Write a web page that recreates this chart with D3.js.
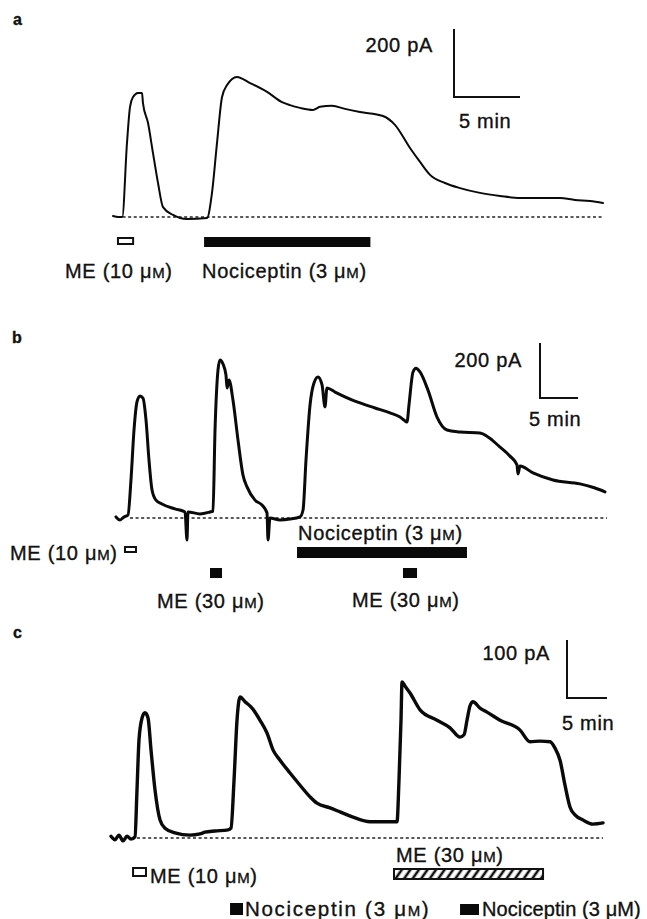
<!DOCTYPE html>
<html><head><meta charset="utf-8">
<script src="https://cdn.jsdelivr.net/npm/d3@7"></script>
<style>
body{margin:0;background:#fff;}
text{font-family:"Liberation Sans",Arial,Helvetica,sans-serif;fill:#111;stroke:#111;stroke-width:0.35px;}
</style></head><body>
<svg id="chart" width="647" height="919"></svg>
<script>
// ---------------- DATA ----------------
const panelNames = ["a", "b", "c"];

// Panel a: membrane current trace (time in min, outward current in pA)
const traceA_min = [0,0.4,0.7,1.06,1.29,1.52,1.89,2.2,2.27,2.65,3.03,3.41,3.79,4.55,5.61,7.12,7.5,7.88,8.26,8.64,9.39,10.38,11.67,12.8,13.41,14.17,15.15,15.68,16.59,17.58,18.71,20.45,21.36,22.5,23.26,24.02,25.15,26.29,27.8,29.32,30.83,32.73,33.86,35.0,36.14,37.12];
const traceA_pA  = [3,0,0,218,324,353,365,365,335,277,188,100,29,6,-6,-3,71,218,353,388,412,394,368,338,329,321,315,324,327,318,309,297,271,203,162,124,100,85,71,62,56,56,56,50,47,41];

// Panel b
const traceB_min = [0,0.53,1.05,1.58,1.97,2.37,2.76,3.16,3.55,3.95,4.34,4.74,5.26,6.05,7.76,9.08,9.34,9.47,11.05,12.37,12.76,13.03,13.42,13.68,14.08,14.47,14.61,14.87,15.39,16.05,16.71,17.24,18.29,19.21,19.87,20.0,20.26,21.58,22.89,24.21,24.61,25.0,25.53,26.05,26.58,27.11,27.5,27.76,28.82,31.71,34.08,36.05,37.37,37.89,38.29,38.55,39.08,39.47,40.0,41.05,42.24,43.55,45.26,47.89,50.53,51.84,52.76,52.89,53.16,54.87,57.5,61.05,63.03,64.34];
const traceB_pA  = [4,-7,4,11,138,320,422,444,436,356,211,102,65,51,33,22,-80,22,15,22,25,320,538,575,560,520,473,502,429,284,156,113,65,47,18,-80,0,-7,-4,4,29,211,411,491,513,484,404,473,458,422,400,382,367,356,349,411,531,545,531,465,367,320,313,309,258,225,193,160,189,164,138,124,109,95];

// Panel c
const traceC_min = [0,0.5,1.0,1.5,2.0,2.5,3.0,3.25,3.5,3.88,4.25,4.63,5.0,5.5,6.13,6.75,8.0,9.88,11.13,11.75,13.0,14.63,15.0,15.38,15.75,16.13,16.75,17.63,18.63,19.5,20.25,21.13,22.38,23.63,24.88,25.75,27.38,28.63,30.25,32.38,34.25,35.75,36.0,36.25,36.38,36.75,37.38,38.63,40.75,42.38,43.63,44.13,44.5,44.88,45.25,46.13,47.0,48.63,51.13,52.38,53.63,54.88,55.5,56.13,56.75,57.38,58.0,59.0,60.25,61.5];
const traceC_pA  = [3,-3,5,-5,3,-2,2,83,169,207,216,207,152,83,31,17,9,5,7,10,12,14,17,100,203,243,235,224,203,181,152,134,112,91,71,60,52,45,36,28,28,28,100,203,269,262,250,221,203,190,174,178,203,228,235,224,217,203,186,166,167,166,155,134,91,53,40,31,24,26];

// Scale bars
const scaleBarPA  = [200, 200, 100];
const scaleBarMin = [5, 5, 5];
const scaleBarPAText  = ["200 pA", "200 pA", "100 pA"];
const scaleBarMinText = ["5 min", "5 min", "5 min"];

// Drug applications (min)
const drugA_name  = ["ME (10 μM)", "Nociceptin (3 μM)"];
const drugA_start = [0.3, 6.9];
const drugA_end   = [1.6, 19.5];

const drugB_name  = ["ME (10 μM)", "ME (30 μM)", "Nociceptin (3 μM)", "ME (30 μM)"];
const drugB_start = [1.05, 12.37, 23.82, 37.76];
const drugB_end   = [2.76, 13.95, 46.18, 39.61];

const drugC_name  = ["ME (10 μM)", "ME (30 μM)", "Nociceptin (3 μM)", "Nociceptin (3 μM)"];
const drugC_start = [2.63, 35.25, 14.88, 43.63];
const drugC_end   = [4.5, 54.13, 16.5, 46.0];

// ---------------- LAYOUT ----------------
const layout = [
  { x0:113, pxMin:13.2, base:217, pxPA:0.34, lw:2.0, dash:[0.3,37.12], letter:[13,25],
    bar:[454,97], paText:[433,52], minText:[459,128],
    drugs:[
      {style:"open",  y:237, h:8,  lx:65,  ly:278, small:true},
      {style:"solid", y:237, h:10, lx:202, ly:278, small:true}
    ]},
  { x0:116, pxMin:7.6, base:518, pxPA:0.275, lw:3.0, dash:[1.84,64.6], letter:[12,343],
    bar:[540,398], paText:[522,367], minText:[529,426],
    drugs:[
      {style:"open",  y:546, h:7,  lx:10,  ly:560, small:true},
      {style:"solid", y:568, h:10, lx:157, ly:608, small:true},
      {style:"solid", y:547, h:11, lx:298, ly:540, small:true},
      {style:"solid", y:568, h:10, lx:352, ly:607, small:true}
    ]},
  { x0:111, pxMin:8, base:838, pxPA:0.58, lw:3.4, dash:[3.25,61.5], letter:[13,638],
    bar:[567,698], paText:[550,660], minText:[562,730],
    drugs:[
      {style:"open",  y:867, h:10, lx:150, ly:883, small:true},
      {style:"hatch", y:868, h:12, lx:396, ly:862, small:true},
      {style:"solid", y:903, h:12, lx:245, ly:916, small:true, fs:20.5, ls:1.7},
      {style:"solid", y:904, h:11, lx:482, ly:916, small:false, fs:20, ls:0.1}
    ]}
];

const traces = [[traceA_min,traceA_pA],[traceB_min,traceB_pA],[traceC_min,traceC_pA]];
const drugs = [[drugA_name,drugA_start,drugA_end],[drugB_name,drugB_start,drugB_end],[drugC_name,drugC_start,drugC_end]];

// ---------------- DRAW ----------------
const svg = d3.select("#chart");
const defs = svg.append("defs");
const pat = defs.append("pattern").attr("id","hatch").attr("patternUnits","userSpaceOnUse")
  .attr("width",7).attr("height",7).attr("patternTransform","rotate(35)");
pat.append("rect").attr("width",7).attr("height",7).attr("fill","#fff");
pat.append("line").attr("x1",2).attr("y1",0).attr("x2",2).attr("y2",7).attr("stroke","#111").attr("stroke-width",2.6);

function label(g, x, y, s, small, anchor, fs, ls) {
  const t = g.append("text").attr("x", x).attr("y", y).attr("text-anchor", anchor || "start")
    .attr("font-size", fs || 20).attr("letter-spacing", ls == null ? 0.7 : ls);
  const i = s.indexOf("μM");
  if (small && i >= 0) {
    t.append("tspan").text(s.slice(0, i + 1));
    t.append("tspan").attr("font-size", 15).text("M");
    t.append("tspan").text(s.slice(i + 2));
  } else t.text(s);
  return t;
}

layout.forEach((L, p) => {
  const g = svg.append("g");
  const x = d3.scaleLinear().domain([0, 1]).range([L.x0, L.x0 + L.pxMin]);
  const y = d3.scaleLinear().domain([0, 1]).range([L.base, L.base - L.pxPA]);

  // panel letter
  g.append("text").attr("x", L.letter[0]).attr("y", L.letter[1]).attr("font-size", 16)
    .attr("font-weight", "bold").text(panelNames[p]);

  // dashed zero-current baseline
  g.append("line").attr("x1", x(L.dash[0])).attr("x2", x(L.dash[1]))
    .attr("y1", y(0)).attr("y2", y(0))
    .attr("stroke", "#222").attr("stroke-width", 1.3).attr("stroke-dasharray", "3,2.6");

  // trace
  const [tm, pa] = traces[p];
  const pts = tm.map((t, i) => [t, pa[i]]);
  g.append("path").datum(pts)
    .attr("d", d3.line().x(d => x(d[0])).y(d => y(d[1])).curve(d3.curveMonotoneX))
    .attr("fill", "none").attr("stroke", "#0a0a0a").attr("stroke-width", L.lw)
    .attr("stroke-linejoin", "round").attr("stroke-linecap", "round");

  // scale bar
  const bx = L.bar[0], by = L.bar[1];
  const vlen = y(0) - y(scaleBarPA[p]);
  const hlen = x(scaleBarMin[p]) - x(0);
  g.append("path").attr("d", `M${bx},${by - vlen}V${by}H${bx + hlen}`)
    .attr("fill", "none").attr("stroke", "#111").attr("stroke-width", 2);
  label(g, L.paText[0], L.paText[1], scaleBarPAText[p], false, "end");
  label(g, L.minText[0], L.minText[1], scaleBarMinText[p], false, "start");

  // drug bars
  const [names, st, en] = drugs[p];
  names.forEach((n, i) => {
    const d = L.drugs[i];
    const x1 = x(st[i]), x2 = x(en[i]);
    if (d.style === "open") {
      g.append("rect").attr("x", x1 + 1).attr("y", d.y + 1).attr("width", x2 - x1 - 2).attr("height", d.h - 2)
        .attr("fill", "#fff").attr("stroke", "#111").attr("stroke-width", 2);
    } else if (d.style === "hatch") {
      g.append("rect").attr("x", x1 + 1).attr("y", d.y + 1).attr("width", x2 - x1 - 2).attr("height", d.h - 2)
        .attr("fill", "url(#hatch)").attr("stroke", "#111").attr("stroke-width", 2);
    } else {
      g.append("rect").attr("x", x1).attr("y", d.y).attr("width", x2 - x1).attr("height", d.h)
        .attr("fill", "#0a0a0a");
    }
    label(g, d.lx, d.ly, n, d.small, "start", d.fs, d.ls);
  });
});
</script>
</body></html>
